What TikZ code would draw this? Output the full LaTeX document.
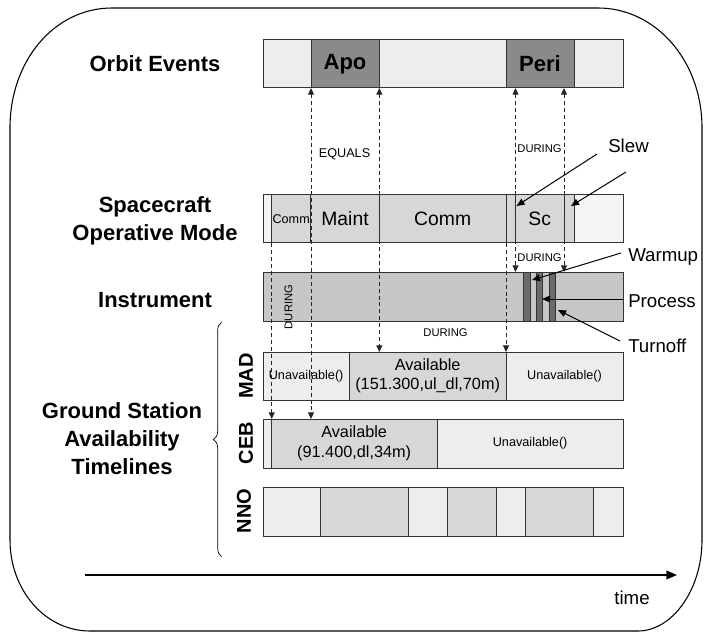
\documentclass[tikz,border=0pt]{standalone}
\usepackage{fontspec}
\setmainfont{Liberation Sans}
\usetikzlibrary{arrows.meta,decorations.pathreplacing}
\definecolor{lightc}{HTML}{EDEDED}
\definecolor{whitec}{HTML}{F5F5F5}
\definecolor{midc}{HTML}{D7D7D7}
\definecolor{instc}{HTML}{C6C6C6}
\definecolor{darkc}{HTML}{8A8A8A}
\definecolor{barc}{HTML}{6A6A6A}
\tikzset{
  box/.style={draw=black!80, line width=0.75pt},
  rel/.style={draw=black!85, line width=0.7pt, dash pattern=on 3pt off 2.2pt},
  bothtip/.style={{Triangle[width=4.5pt,length=5pt]}-{Triangle[width=4.5pt,length=5pt]}},
  endtip/.style={-{Triangle[width=4.5pt,length=5pt]}},
  ptr/.style={draw=black, line width=0.75pt, -{Triangle[width=5pt,length=6pt]}},
  lab/.style={font=\fontsize{16.5}{21}\selectfont\bfseries, align=center, inner sep=0pt},
  ev/.style={font=\fontsize{16.5}{20}\selectfont\bfseries, inner sep=0pt},
  mode/.style={font=\fontsize{14.5}{17}\selectfont, inner sep=0pt},
  small/.style={font=\fontsize{9.5}{11}\selectfont, inner sep=0pt},
  tiny/.style={font=\fontsize{8.4}{10}\selectfont, inner sep=0pt},
  avail/.style={font=\fontsize{12.2}{14.2}\selectfont, align=center, inner sep=0pt},
  side/.style={font=\fontsize{14}{16}\selectfont, anchor=west, inner sep=0pt},
  stn/.style={font=\fontsize{15}{17}\selectfont\bfseries, rotate=90, inner sep=0pt},
}
\begin{document}
\begin{tikzpicture}[x=0.75pt,y=-0.75pt]
\useasboundingbox (0,0) rectangle (705,634);
% frame
\draw[line width=0.8pt] (112,8) -- (598,8) .. controls (655,8) and (702,60) .. (702,128)
  -- (702,540) .. controls (702,590) and (672,631) .. (638,631) -- (90,631)
  .. controls (45,631) and (10,590) .. (10,540) -- (10,128)
  .. controls (10,60) and (55,8) .. (112,8) -- cycle;

% row labels
\node[lab] (lorbit) at (155,64) {Orbit Events};
\node[lab] (lsc) at (155,221) {Spacecraft\\Operative Mode};
\node[lab] (linst) at (155,300) {Instrument};
\node[lab] (lgs) at (122,439) {Ground Station\\Availability\\Timelines};
\draw[line width=0.5pt, decorate, decoration={brace, amplitude=6.5pt}] (222,557) -- (222,322);
\node[stn] (lmad) at (246,376) {MAD};
\node[stn] (lceb) at (246,443) {CEB};
\node[stn] (lnno) at (244,511) {NNO};

% orbit events
\draw[box,fill=lightc] (263,40) rectangle node (o1) {} (311,88);
\draw[box,fill=darkc] (311,40) rectangle node[ev] (apo) {Apo} (379,88);
\draw[box,fill=lightc] (379,40) rectangle node (o3) {} (506,88);
\draw[box,fill=darkc] (506,40) rectangle node[ev] (peri) {Peri} (574,88);
\draw[box,fill=lightc] (574,40) rectangle node (o5) {} (623,88);

% spacecraft operative mode
\draw[box,fill=whitec] (263,195) rectangle node (s0) {} (271.7,243);
\draw[box,fill=midc] (271.7,195) rectangle node[font=\fontsize{9.5}{11}\selectfont, inner sep=0pt] (s1) {Comm} (310.7,243);
\draw[box,fill=midc] (310.7,195) rectangle node[mode] (s2) {Maint} (379.3,243);
\draw[box,fill=midc] (379.3,195) rectangle node[mode] (s3) {Comm} (506,243);
\draw[box,fill=midc] (506,195) rectangle node (s4) {} (515.5,243);
\draw[box,fill=midc] (515.5,195) rectangle node[mode] (s5) {Sc} (564,243);
\draw[box,fill=midc] (564,195) rectangle node (s6) {} (574.3,243);
\draw[box,fill=whitec] (574.3,195) rectangle node (s7) {} (623,243);

% instrument
\draw[box,fill=instc] (263,272) rectangle node (inst) {} (623,321);
\draw[box,fill=barc] (523.3,272) rectangle node (b1) {} (530,321);
\draw[box,fill=barc] (536,272) rectangle node (b2) {} (542.7,321);
\draw[box,fill=barc] (549.3,272) rectangle node (b3) {} (555.3,321);

% MAD
\draw[box,fill=lightc] (263,352) rectangle node[small] (m1) {Unavailable()} (349.3,400);
\draw[box,fill=midc] (349.3,352) rectangle node[avail] (m2) {Available\\(151.300,ul\_dl,70m)} (506,400);
\draw[box,fill=lightc] (506,352) rectangle node[small] (m3) {Unavailable()} (623,400);

% CEB
\draw[box,fill=lightc] (263,419) rectangle node (c1) {} (271,468);
\draw[box,fill=midc] (271,419) rectangle node[avail, font=\fontsize{12.2}{15}\selectfont] (c2) {Available\\(91.400,dl,34m)} (437.3,468);
\draw[box,fill=lightc] (437.3,419) rectangle node[small] (c3) {Unavailable()} (623,468);

% NNO
\draw[box,fill=lightc] (263,487) rectangle node (n1) {} (320.7,536);
\draw[box,fill=midc] (320.7,487) rectangle node (n2) {} (408.3,536);
\draw[box,fill=lightc] (408.3,487) rectangle node (n3) {} (447.3,536);
\draw[box,fill=midc] (447.3,487) rectangle node (n4) {} (496,536);
\draw[box,fill=lightc] (496,487) rectangle node (n5) {} (525,536);
\draw[box,fill=midc] (525,487) rectangle node (n6) {} (593.3,536);
\draw[box,fill=lightc] (593.3,487) rectangle node (n7) {} (623,536);

% relation end points
\coordinate (oA1) at (311,88);   \coordinate (cebA) at (311,419);
\coordinate (oA2) at (379.3,88); \coordinate (madA) at (379.3,352);
\coordinate (oP1) at (515.5,88); \coordinate (inP1) at (515.5,272);
\coordinate (oP2) at (564,88);   \coordinate (inP2) at (564,272);
\coordinate (scC) at (271.7,243); \coordinate (cebC) at (271.7,419);
\coordinate (scM) at (506,243);  \coordinate (madM) at (506,352);

\draw[rel,bothtip] (oA1) -- (cebA);
\draw[rel,bothtip] (oA2) -- (madA);
\draw[rel,bothtip] (oP1) -- (inP1);
\draw[rel,bothtip] (oP2) -- (inP2);
\draw[rel,endtip] (scC) -- (cebC);
\draw[rel,endtip] (scM) -- (madM);

% relation labels
\node[small] (eq) at (344.5,154) {EQUALS};
\node[tiny] (d1) at (539.5,149) {DURING};
\node[tiny] (d2) at (539.5,258) {DURING};
\node[tiny, rotate=90] (d3) at (288.5,307) {DURING};
\node[tiny] (d4) at (445.5,333) {DURING};

% side labels and pointers
\node[side] (slew) at (608,146) {Slew};
\node[side] (warm) at (628,257) {Warmup};
\node[side] (proc) at (628,301) {Process};
\node[side] (turn) at (628,346) {Turnoff};
\coordinate (sl1a) at (597,154); \coordinate (sl1b) at (516.5,206);
\coordinate (sl2a) at (626,172); \coordinate (sl2b) at (571,206);
\coordinate (wa) at (621,253);   \coordinate (wb) at (532,280);
\coordinate (pa) at (623,299);   \coordinate (pb) at (542,299);
\coordinate (ta) at (620,341);   \coordinate (tb) at (558,310);
\draw[ptr] (sl1a) -- (sl1b);
\draw[ptr] (sl2a) -- (sl2b);
\draw[ptr] (wa) -- (wb);
\draw[ptr] (pa) -- (pb);
\draw[ptr] (ta) -- (tb);

% time axis
\coordinate (t0) at (85,575);
\coordinate (t1) at (677,575);
\draw[line width=1.1pt, -{Triangle[width=6.5pt,length=8pt]}] (t0) -- (t1);
\node[font=\fontsize{14}{16}\selectfont, inner sep=0pt] (time) at (632,598) {time};
\end{tikzpicture}
\end{document}
